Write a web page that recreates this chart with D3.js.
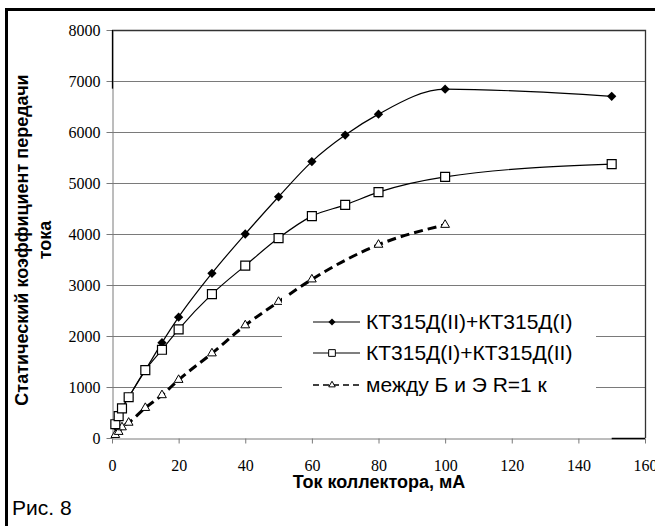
<!doctype html>
<html lang=en>
<head>
<meta charset=utf-8>
<title>Рис. 8</title>
<script src="https://d3js.org/d3.v7.min.js"></script>
<style>
  body { margin: 0; background: #fff; }
  svg { display: block; }
  .tick text { font-family: "Liberation Serif", "Times New Roman", Times, serif; }
</style>
</head>
<body>
<div id="chart"></div>
<script>
// data
var xAll = [1, 2, 3, 5, 10, 15, 20, 30, 40, 50, 60, 70, 80, 100, 150];
var kt21 = [230, 420, 580, 800, 1330, 1870, 2370, 3230, 4000, 4730, 5420, 5940, 6350, 6840, 6700];
var kt12 = [270, 430, 580, 800, 1330, 1730, 2130, 2820, 3380, 3920, 4350, 4570, 4820, 5120, 5370];
var xR = [1, 2, 3, 5, 10, 15, 20, 30, 40, 50, 60, 80, 100];
var kR = [60, 120, 210, 300, 590, 840, 1140, 1660, 2210, 2670, 3110, 3790, 4180];
var xTicks = [0, 20, 40, 60, 80, 100, 120, 140, 160];
var yTicks = [0, 1000, 2000, 3000, 4000, 5000, 6000, 7000, 8000];
var legendNames = ["КТ315Д(II)+КТ315Д(I)", "КТ315Д(I)+КТ315Д(II)", "между Б и Э R=1 к"];

var W = 655, H = 526;
var sans = "'Liberation Sans', Arial, sans-serif";
var svg = d3.select("#chart").append("svg").attr("width", W).attr("height", H);

var x = d3.scaleLinear().domain([0, 160]).range([112, 645]);
var y = d3.scaleLinear().domain([0, 8000]).range([438, 30]);

// outer frame (runs off the right and bottom)
svg.append("path").attr("d", "M6.5,540 V9.5 H670")
  .attr("fill", "none").attr("stroke", "#000").attr("stroke-width", 3);

// grid
svg.append("g").selectAll("line").data(yTicks.slice(1, 8)).enter().append("line")
  .attr("x1", x(0)).attr("x2", x(160))
  .attr("y1", function(d) { return Math.round(y(d)) + 0.5; })
  .attr("y2", function(d) { return Math.round(y(d)) + 0.5; })
  .attr("stroke", "#7a7a7a").attr("stroke-width", 1);

// plot border top/right
svg.append("path")
  .attr("d", "M" + x(0) + "," + (y(8000) + 0.5) + " H" + (x(160) + 0.5) + " V" + y(0))
  .attr("fill", "none").attr("stroke", "#333").attr("stroke-width", 1.3);

// axes
var xAxis = d3.axisBottom(x).tickValues(xTicks).tickFormat(d3.format("d")).tickSize(5).tickSizeOuter(0);
var gx = svg.append("g").attr("transform", "translate(0," + (y(0) + 0.5) + ")").call(xAxis)
  .attr("font-size", 16);
gx.select(".domain").attr("stroke", "#7a7a7a");
gx.selectAll(".tick line").attr("stroke", "#7a7a7a");
gx.selectAll("text").attr("dy", null).attr("y", 32).attr("fill", "#000");
svg.append("line").attr("x1", x(150)).attr("x2", x(160))
  .attr("y1", y(0) + 0.5).attr("y2", y(0) + 0.5).attr("stroke", "#000").attr("stroke-width", 1.3);

var yAxis = d3.axisLeft(y).tickValues(yTicks).tickFormat(d3.format("d")).tickSize(6).tickSizeOuter(0);
var gy = svg.append("g").attr("transform", "translate(" + (x(0) + 0.5) + ",0)").call(yAxis)
  .attr("font-size", 16);
gy.select(".domain").attr("stroke", "#7a7a7a");
gy.selectAll(".tick line").attr("stroke", "#7a7a7a");
gy.selectAll("text").attr("x", -12).attr("dy", "0.34em").attr("fill", "#000");
svg.append("line").attr("x1", x(0) + 0.5).attr("x2", x(0) + 0.5)
  .attr("y1", y(8000)).attr("y2", y(6850)).attr("stroke", "#000").attr("stroke-width", 1.3);

// axis titles
svg.append("text").attr("x", 379).attr("y", 488).attr("text-anchor", "middle")
  .attr("font-family", sans).attr("font-size", 18).attr("font-weight", "bold")
  .text("Ток коллектора, мА");
var yt = svg.append("text").attr("transform", "translate(28,240) rotate(-90)").attr("text-anchor", "middle")
  .attr("font-family", sans).attr("font-size", 18).attr("font-weight", "bold");
yt.append("tspan").attr("x", 0).attr("dy", 0).text("Статический коэффициент передачи");
yt.append("tspan").attr("x", 0).attr("dy", 23).text("тока");

svg.append("text").attr("x", 12).attr("y", 515)
  .attr("font-family", sans).attr("font-size", 21)
  .text("Рис. 8");

// series
var line = d3.line().curve(d3.curveMonotoneX)
  .x(function(d) { return x(d[0]); }).y(function(d) { return y(d[1]); });
var s1 = d3.zip(xAll, kt21), s2 = d3.zip(xAll, kt12), s3 = d3.zip(xR, kR);

svg.append("path").datum(s3).attr("d", line).attr("fill", "none")
  .attr("stroke", "#000").attr("stroke-width", 3).attr("stroke-dasharray", "9,5");
svg.append("path").datum(s1).attr("d", line).attr("fill", "none")
  .attr("stroke", "#000").attr("stroke-width", 1.2);
svg.append("path").datum(s2).attr("d", line).attr("fill", "none")
  .attr("stroke", "#000").attr("stroke-width", 1.2);

var diamond = d3.symbol().type(d3.symbolDiamond2).size(55);
var square = d3.symbol().type(d3.symbolSquare).size(80);
var triangle = d3.symbol().type(d3.symbolTriangle2).size(55);

svg.append("g").selectAll("path").data(s3).enter().append("path")
  .attr("d", triangle).attr("transform", function(d) { return "translate(" + x(d[0]) + "," + y(d[1]) + ")"; })
  .attr("fill", "#fff").attr("stroke", "#000").attr("stroke-width", 1);
svg.append("g").selectAll("path").data(s1).enter().append("path")
  .attr("d", diamond).attr("transform", function(d) { return "translate(" + x(d[0]) + "," + y(d[1]) + ")"; })
  .attr("fill", "#000");
svg.append("g").selectAll("path").data(s2).enter().append("path")
  .attr("d", square).attr("transform", function(d) { return "translate(" + x(d[0]) + "," + y(d[1]) + ")"; })
  .attr("fill", "#fff").attr("stroke", "#000").attr("stroke-width", 1.2);

// legend
var lg = svg.append("g");
lg.append("rect").attr("x", 282).attr("y", 296).attr("width", 314).attr("height", 118).attr("fill", "#fff");
var rowY = [322, 353, 385];
var marks = [
  d3.symbol().type(d3.symbolDiamond2).size(32),
  d3.symbol().type(d3.symbolSquare).size(45),
  d3.symbol().type(d3.symbolTriangle2).size(30)
];
legendNames.forEach(function(name, i) {
  var g = lg.append("g").attr("transform", "translate(0," + rowY[i] + ")");
  g.append("line").attr("x1", 313).attr("x2", 360).attr("y1", 0).attr("y2", 0)
    .attr("stroke", "#000").attr("stroke-width", i == 2 ? 1.5 : 1.2)
    .attr("stroke-dasharray", i == 2 ? "6,4" : null);
  g.append("path").attr("d", marks[i]).attr("transform", "translate(332,0)")
    .attr("fill", i == 0 ? "#000" : "#fff").attr("stroke", "#000").attr("stroke-width", i == 0 ? 0 : 1);
  g.append("text").attr("x", 366).attr("y", 7)
    .attr("font-family", sans).attr("font-size", 21)
    .text(name);
});
</script>
</body>
</html>
